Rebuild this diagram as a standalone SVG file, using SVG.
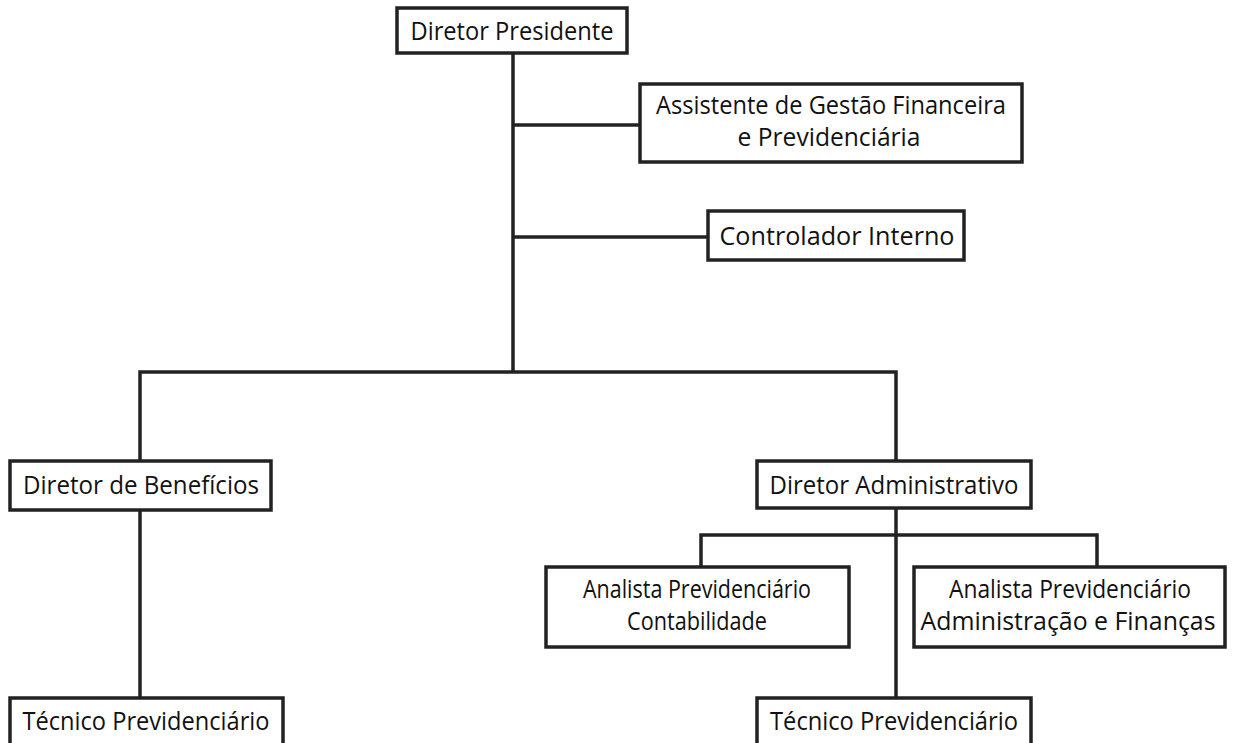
<svg xmlns="http://www.w3.org/2000/svg" width="1237" height="743" viewBox="0 0 1237 743">
<style>
.box{fill:#fff;stroke:#222;stroke-width:3.5}
.ln{fill:none;stroke:#222;stroke-width:3.5}
.t{font-family:"Open Sans","Noto Sans",sans-serif;font-size:25px;fill:#111;text-anchor:middle}
</style>
<rect width="1237" height="743" fill="#fff"/>
<g id="connectors">
<path class="ln" d="M513,53 V372"/>
<path class="ln" d="M513,125 H640"/>
<path class="ln" d="M513,237 H708"/>
<path class="ln" d="M140,461 V372 H896 V461"/>
<path class="ln" d="M140,510 V698"/>
<path class="ln" d="M896,508 V698"/>
<path class="ln" d="M701,567 V535 H1097 V567"/>
</g>
<g id="diretor-presidente"><rect class="box" x="397" y="8" width="230" height="45"/><text class="t" x="512" y="40" textLength="203" lengthAdjust="spacingAndGlyphs">Diretor Presidente</text></g>
<g id="assistente"><rect class="box" x="640" y="84" width="382" height="78"/><text class="t" x="831" y="114" textLength="350" lengthAdjust="spacingAndGlyphs">Assistente de Gestão Financeira</text><text class="t" x="829" y="146" textLength="183" lengthAdjust="spacingAndGlyphs">e Previdenciária</text></g>
<g id="controlador"><rect class="box" x="708" y="211" width="256" height="49"/><text class="t" x="837" y="245" textLength="235" lengthAdjust="spacingAndGlyphs">Controlador Interno</text></g>
<g id="diretor-beneficios"><rect class="box" x="10" y="461" width="261" height="49"/><text class="t" x="141" y="494" textLength="236" lengthAdjust="spacingAndGlyphs">Diretor de Benefícios</text></g>
<g id="diretor-administrativo"><rect class="box" x="757" y="461" width="274" height="47"/><text class="t" x="894" y="494" textLength="249" lengthAdjust="spacingAndGlyphs">Diretor Administrativo</text></g>
<g id="analista-contabilidade"><rect class="box" x="546" y="567" width="303" height="80"/><text class="t" x="697" y="598" textLength="228" lengthAdjust="spacingAndGlyphs">Analista Previdenciário</text><text class="t" x="697" y="630" textLength="140" lengthAdjust="spacingAndGlyphs">Contabilidade</text></g>
<g id="analista-administracao"><rect class="box" x="914" y="567" width="311" height="80"/><text class="t" x="1070" y="598" textLength="242" lengthAdjust="spacingAndGlyphs">Analista Previdenciário</text><text class="t" x="1068" y="630" textLength="295" lengthAdjust="spacingAndGlyphs">Administração e Finanças</text></g>
<g id="tecnico-beneficios"><rect class="box" x="10" y="698" width="273" height="55"/><text class="t" x="146" y="730" textLength="247" lengthAdjust="spacingAndGlyphs">Técnico Previdenciário</text></g>
<g id="tecnico-administrativo"><rect class="box" x="757" y="698" width="274" height="55"/><text class="t" x="894" y="730" textLength="248" lengthAdjust="spacingAndGlyphs">Técnico Previdenciário</text></g>
</svg>
